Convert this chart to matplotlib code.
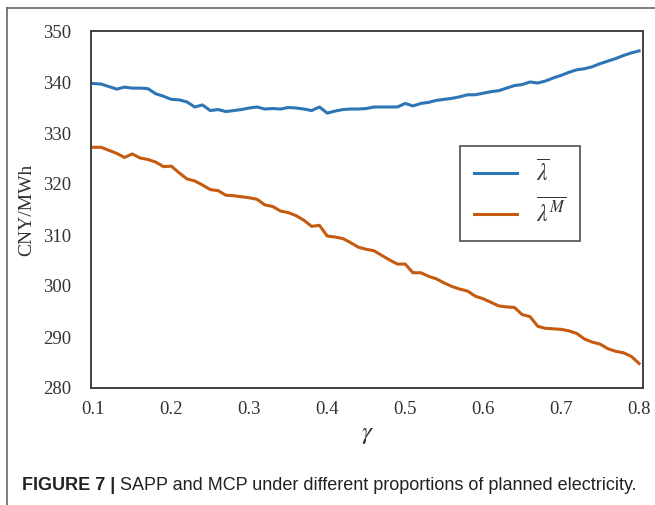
import matplotlib
matplotlib.use('Agg')
import matplotlib.pyplot as plt
from matplotlib.lines import Line2D

# --- data (gamma step 0.01) ---
gamma = [round(0.10 + 0.01 * i, 2) for i in range(71)]

sapp = [339.7, 339.6, 339.1, 338.6, 339.0, 338.8, 338.8, 338.7, 337.7, 337.2,
        336.6, 336.5, 336.1, 335.1, 335.5, 334.4, 334.6, 334.2, 334.4, 334.6,
        334.9, 335.1, 334.7, 334.8, 334.7, 335.0, 334.9, 334.7, 334.4, 335.1,
        333.9, 334.3, 334.6, 334.7, 334.7, 334.8, 335.1, 335.1, 335.1, 335.1,
        335.8, 335.3, 335.8, 336.0, 336.4, 336.6, 336.8, 337.1, 337.5, 337.5,
        337.8, 338.1, 338.3, 338.8, 339.3, 339.5, 340.0, 339.8, 340.2, 340.8,
        341.3, 341.9, 342.4, 342.6, 343.0, 343.6, 344.1, 344.6, 345.2, 345.7,
        346.1]

mcp = [327.2, 327.2, 326.6, 326.0, 325.2, 325.9, 325.1, 324.8, 324.3, 323.4,
       323.5, 322.2, 321.0, 320.6, 319.8, 318.9, 318.7, 317.8, 317.7, 317.5,
       317.3, 317.0, 315.9, 315.6, 314.7, 314.4, 313.8, 312.9, 311.7, 311.9,
       309.8, 309.6, 309.3, 308.5, 307.6, 307.2, 306.9, 306.0, 305.1, 304.3,
       304.3, 302.6, 302.6, 301.9, 301.4, 300.6, 299.9, 299.4, 299.0, 298.0,
       297.5, 296.8, 296.1, 295.9, 295.8, 294.4, 294.0, 292.1, 291.7, 291.6,
       291.5, 291.2, 290.7, 289.6, 289.0, 288.6, 287.7, 287.2, 286.9, 286.2,
       284.8]

x_ticks = [0.1, 0.2, 0.3, 0.4, 0.5, 0.6, 0.7, 0.8]
y_ticks = [280, 290, 300, 310, 320, 330, 340, 350]

BLUE = '#2E75B6'
ORANGE = '#C55A11'
SPINE = '#404040'

plt.rcParams['mathtext.fontset'] = 'stix'

fig = plt.figure(figsize=(6.55, 5.05), dpi=100)
ax = fig.add_axes([91 / 655, 1 - 388 / 505, (643 - 91) / 655, (388 - 31) / 505])

ax.plot(gamma, sapp, color=BLUE, lw=2.2, label=r'$\overline{\lambda}$')
ax.plot(gamma, mcp, color=ORANGE, lw=2.2, label=r'$\overline{\lambda^{M}}$')

ax.set_xlim(0.097, 0.805)
ax.set_ylim(280, 350)
ax.set_xticks(x_ticks)
ax.set_xticklabels([f'{t:.1f}' for t in x_ticks])
ax.set_yticks(y_ticks)
ax.set_yticklabels([str(t) for t in y_ticks])
ax.tick_params(length=0, labelsize=13.5, colors='#333333')
ax.tick_params(axis='y', pad=14)
ax.tick_params(axis='x', pad=9)
for lab in ax.get_xticklabels() + ax.get_yticklabels():
    lab.set_family('Liberation Serif')

for s in ax.spines.values():
    s.set_color(SPINE)
    s.set_linewidth(1.4)

ax.set_ylabel('CNY/MWh', fontsize=14, family='Liberation Serif', color='#333333', labelpad=6)
ax.set_xlabel(r'$\gamma$', fontsize=18, color='#333333', labelpad=3)

leg = ax.legend(loc='upper left', bbox_to_anchor=(460 / 655, 1 - 146 / 505),
                bbox_transform=fig.transFigure, fancybox=False, frameon=True,
                edgecolor=SPINE, fontsize=17, handlelength=1.8, handletextpad=0.8,
                borderpad=0.6, labelspacing=0.5, borderaxespad=0)
leg.get_frame().set_linewidth(1.4)
for t in leg.get_texts():
    t.set_color('#333333')

# outer frame of the figure panel
fig.add_artist(Line2D([7 / 655, 7 / 655], [0, 1 - 8 / 505], transform=fig.transFigure,
                      color='#666666', lw=1.2))
fig.add_artist(Line2D([7 / 655, 1], [1 - 8 / 505, 1 - 8 / 505], transform=fig.transFigure,
                      color='#666666', lw=1.2))

# caption: bold lead-in, then the rest placed right after it
cap_y = 1 - 485 / 505
t1 = fig.text(22 / 655, cap_y, 'FIGURE 7 |', family='Liberation Sans', fontweight='bold',
              fontsize=13.0, va='center', ha='left', color='#222222')
fig.canvas.draw()
bb = t1.get_window_extent()
fig.text((bb.x1 + 5) / 655, cap_y, 'SAPP and MCP under different proportions of planned electricity.',
         family='Liberation Sans', fontsize=13.0, va='center', ha='left', color='#222222')

fig.savefig('out.png', dpi=100)
